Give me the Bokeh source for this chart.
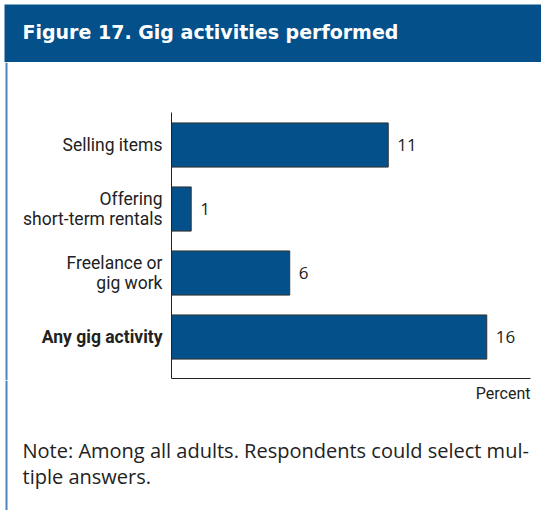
from bokeh.plotting import figure
from bokeh.models import ColumnDataSource, FactorRange, Range1d, Label, BoxAnnotation, FixedTicker
from bokeh.transform import dodge
from bokeh.layouts import column, row
from bokeh.embed import file_html
from bokeh.resources import INLINE
from bokeh.core.properties import value, field

# ---------------- data ----------------
title_text = "Figure 17. Gig activities performed"
categories = ["Any gig activity", "Freelance or gig work",
              "Offering short-term rentals", "Selling items"]
display_labels = ["Any gig activity", "Freelance or\ngig work",
                  "Offering\nshort-term rentals", "Selling items"]
label_styles = ["bold", "normal", "normal", "normal"]
values = [16, 6, 1, 11]
x_label = "Percent"
note_lines = ["Note: Among all adults. Respondents could select mul-",
              "tiple answers."]

# ---------------- style / geometry ----------------
BLUE = "#03508a"
EDGE = "#4f83b8"
TXT = "#222222"
W = 537
LABEL_FONT = "Roboto"
LABEL_W = 163          # width of the category-label strip
MID_H = 318            # height of the chart row
TOP_B, BOT_B = 50, 2   # borders of the chart frame
PAD = 0.078            # factor-range padding of the chart
SHIFT = 0.07           # bar centre shift
FRAME_H = MID_H - TOP_B - BOT_B
UNIT = FRAME_H / (len(categories) + 2 * PAD)
PAD2 = (MID_H / UNIT - len(categories)) / 2
SHIFT2 = PAD + SHIFT + BOT_B / UNIT - PAD2
NOTE_H = 130

def bare(width, height, bg="white", **kw):
    f = figure(width=width, height=height, x_axis_type=None, y_axis_type=None,
               toolbar_location=None, output_backend="svg", min_border=0,
               outline_line_color=None, background_fill_color=bg,
               border_fill_color=bg, **kw)
    f.frame_align = False
    f.grid.grid_line_color = None
    return f

def edge_line(fig, height):
    fig.add_layout(BoxAnnotation(left=1, right=3, bottom=0, top=height,
                                 left_units="screen", right_units="screen",
                                 bottom_units="screen", top_units="screen",
                                 fill_color=EDGE, fill_alpha=1, line_color=None))

# ---------------- banner ----------------
banner = bare(W, 58, bg=BLUE, x_range=Range1d(0, 1), y_range=Range1d(0, 1))
banner.add_layout(Label(x=18, y=30.5, x_units="screen", y_units="screen",
                        text=title_text, text_color="white",
                        text_font="DejaVu Sans", text_font_style="bold",
                        text_font_size="19px", text_baseline="middle"))

# ---------------- chart ----------------
src = ColumnDataSource(dict(cat=categories, label=display_labels, style=label_styles,
                            val=values, txt=[str(v) for v in values]))

p = figure(width=W - LABEL_W, height=MID_H,
           y_range=FactorRange(factors=categories, range_padding=PAD,
                               range_padding_units="absolute"),
           x_range=Range1d(0, 18.22),
           toolbar_location=None, output_backend="svg",
           min_border_left=4, min_border_right=11,
           min_border_top=TOP_B, min_border_bottom=BOT_B,
           outline_line_color=None,
           background_fill_color="white", border_fill_color="white")
p.frame_align = False
p.grid.grid_line_color = None

ypos = dodge("cat", SHIFT, range=p.y_range)
p.hbar(y=ypos, right="val", left=0, height=0.69, fill_color=BLUE,
       line_color="#333333", line_width=1, source=src)
p.text(x="val", y=ypos, text="txt", x_offset=9, text_baseline="middle",
       text_align="left", text_font=value("Open Sans"), text_font_size="17px",
       text_color=TXT, source=src)

p.xaxis[0].ticker = FixedTicker(ticks=[])
p.yaxis[0].ticker = FixedTicker(ticks=[])
for ax in (p.xaxis[0], p.yaxis[0]):
    ax.major_tick_line_color = None
    ax.minor_tick_line_color = None
    ax.major_tick_out = 0
    ax.major_tick_in = 0
    ax.minor_tick_out = 0
    ax.major_label_standoff = 0
    ax.major_label_text_font_size = "0px"
    ax.axis_line_color = TXT
    ax.axis_line_width = 1

# category labels in their own strip, aligned with the bars
lab = bare(LABEL_W, MID_H, x_range=Range1d(0, 1),
           y_range=FactorRange(factors=categories, range_padding=PAD2,
                               range_padding_units="absolute"))
lab.text(x=1, y=dodge("cat", SHIFT2, range=lab.y_range), text="label", x_offset=-5,
         text_align="right", text_baseline="middle", text_font=value(LABEL_FONT),
         text_font_size="17.5px", text_font_style=field("style"),
         text_line_height=0.99, text_color=TXT, source=src)
edge_line(lab, MID_H)

# ---------------- note ----------------
note = bare(W, NOTE_H, x_range=Range1d(0, 1), y_range=Range1d(0, 1))
note.add_layout(Label(x=W - 11, y=117, x_units="screen", y_units="screen", text=x_label,
                      text_align="right", text_baseline="middle", text_font=LABEL_FONT,
                      text_font_size="16px", text_color=TXT))
for i, line in enumerate(note_lines):
    note.add_layout(Label(x=18, y=60 - 26 * i, x_units="screen", y_units="screen",
                          text=line, text_font="Open Sans", text_font_size="20px",
                          text_baseline="middle", text_color=TXT))
edge_line(note, NOTE_H)

layout = column(banner, row(lab, p, spacing=0), note, spacing=0,
                styles={"position": "absolute", "left": "4px", "top": "4px"})

open("out.html", "w").write(file_html(layout, INLINE))
